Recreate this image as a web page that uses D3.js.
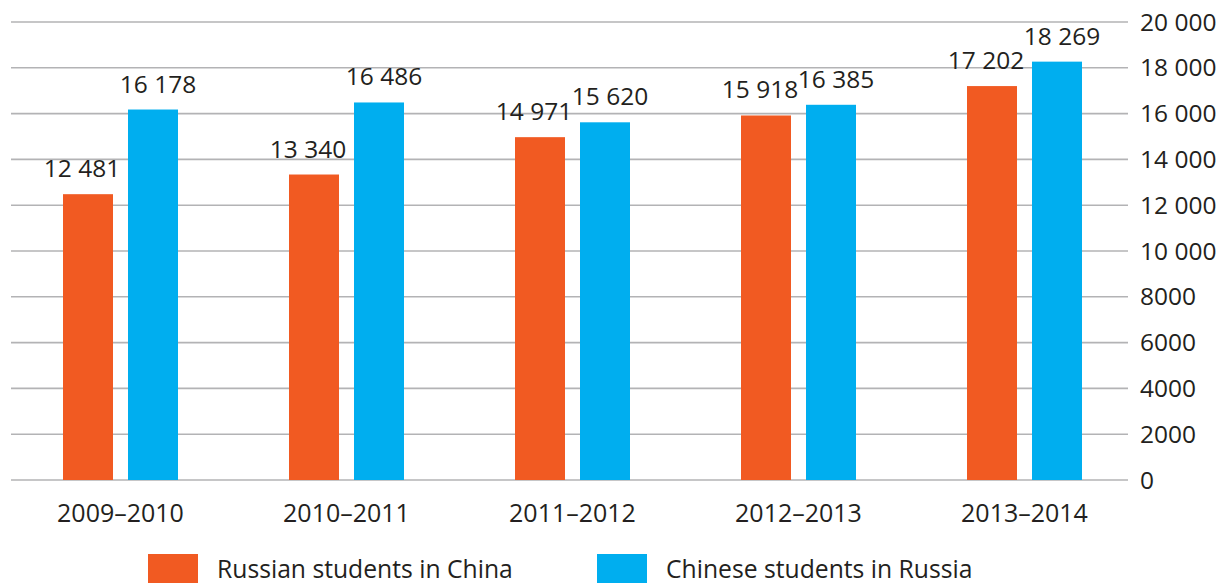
<!DOCTYPE html>
<html>
<head>
<meta charset="utf-8">
<script src="https://cdn.jsdelivr.net/npm/d3@7"></script>
<style>
  body { margin: 0; background: #fff; }
  text { font-family: "Open Sans", sans-serif; fill: #231f20; }
</style>
</head>
<body>
<script>
const years = ["2009–2010", "2010–2011", "2011–2012", "2012–2013", "2013–2014"]
const russiansInChina = [12481, 13340, 14971, 15918, 17202]
const chineseInRussia = [16178, 16486, 15620, 16385, 18269]
const seriesNames = ["Russian students in China", "Chinese students in Russia"]
const yTicks = [0, 2000, 4000, 6000, 8000, 10000, 12000, 14000, 16000, 18000, 20000]

const w = 1231
const h = 583
const colours = ["#f15a22", "#00aeef"]

const svg = d3.select("body")
    .append("svg")
    .attr("width", w)
    .attr("height", h)

const y = d3.scaleLinear()
    .domain([0, 20000])
    .range([480, 22])

const x = d3.scaleBand()
    .domain(years)
    .range([7.5, 1137.5])

// space as thousands separator, but only from 10 000 up (8000, 6000 stay plain)
const fmt = (v) => v >= 10000 ? d3.format(",")(v).replace(/,/g, " ") : String(v)

// grid
svg.append("g")
    .selectAll("line")
    .data(yTicks)
    .enter()
    .append("line")
    .attr("x1", 11)
    .attr("x2", 1128)
    .attr("y1", (d) => y(d))
    .attr("y2", (d) => y(d))
    .attr("stroke", "#b3b3b5")
    .attr("stroke-width", 1.6)

// right axis labels
svg.append("g")
    .selectAll("text")
    .data(yTicks)
    .enter()
    .append("text")
    .attr("x", 1140)
    .attr("y", (d) => y(d) + 8.5)
    .style("font-size", "24.5px")
    .text(fmt)

const barW = 50
const gap = 15
const series = [russiansInChina, chineseInRussia]
const labelShift = [-6, 5] // labels sit a bit apart from each other

series.forEach((vals, s) => {
    const bx = (i) => x(years[i]) + x.bandwidth() / 2 + (s === 0 ? -(gap / 2 + barW) : gap / 2)

    svg.append("g")
        .selectAll("rect")
        .data(vals)
        .enter()
        .append("rect")
        .attr("x", (d, i) => bx(i))
        .attr("y", (d) => y(d))
        .attr("width", barW)
        .attr("height", (d) => y(0) - y(d))
        .style("fill", colours[s])

    svg.append("g")
        .selectAll("text")
        .data(vals)
        .enter()
        .append("text")
        .attr("x", (d, i) => bx(i) + barW / 2 + labelShift[s])
        .attr("y", (d) => y(d) - 17)
        .attr("text-anchor", "middle")
        .style("font-size", "24.5px")
        .text(fmt)
})

// category labels
svg.append("g")
    .selectAll("text")
    .data(years)
    .enter()
    .append("text")
    .attr("x", (d) => x(d) + x.bandwidth() / 2)
    .attr("y", 522)
    .attr("text-anchor", "middle")
    .style("font-size", "25px")
    .text((d) => d)

// legend
const legendX = [148, 597]
seriesNames.forEach((name, i) => {
    svg.append("rect")
        .attr("x", legendX[i])
        .attr("y", 554)
        .attr("width", 50)
        .attr("height", 30)
        .style("fill", colours[i])
    svg.append("text")
        .attr("x", legendX[i] + 69)
        .attr("y", 578)
        .style("font-size", "24.7px")
        .text(name)
})
</script>
</body>
</html>
